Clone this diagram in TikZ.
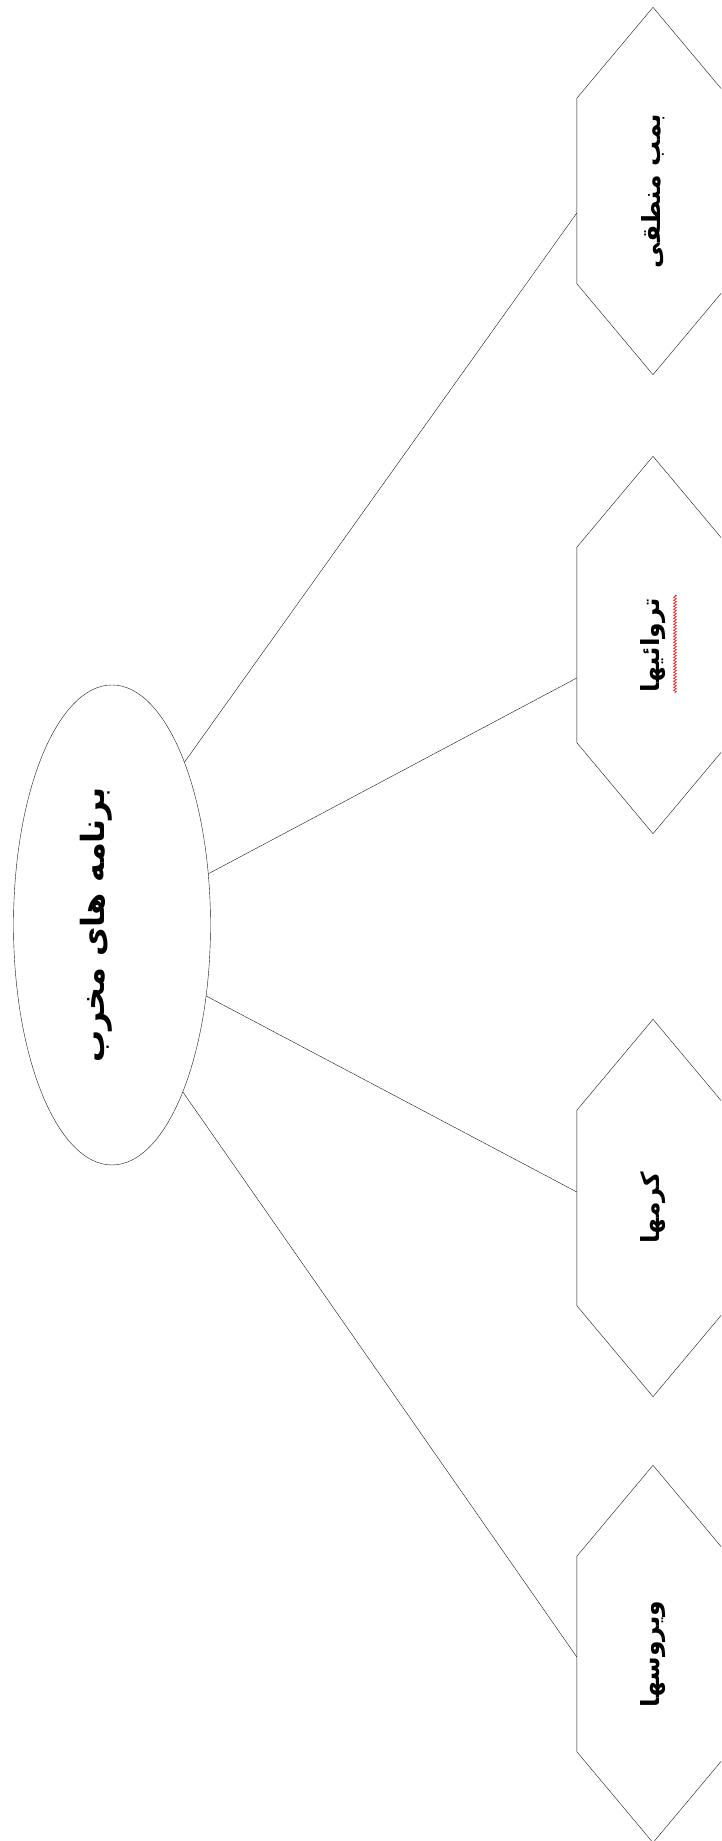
\documentclass[tikz,border=0pt]{standalone}
\usepackage{fontspec}
\usepackage{graphicx}
\newfontfamily\arabicfont[Script=Arabic]{DejaVu Sans}
\TeXXeTstate=1
\usepackage{tikz}
\usetikzlibrary{shapes.geometric, decorations.pathmorphing}
\tikzset{
	line width = 1.3pt,
	root/.style={
		draw=black!90,
		ellipse,
		minimum width=197pt,
		minimum height=480pt,
		inner sep=0pt,
		font=\arabicfont\bfseries\fontsize{32}{38}\selectfont
	},
	hexbox/.style={
		minimum width=152pt,
		minimum height=195pt,
		inner sep=0pt,
		font=\arabicfont\bfseries\fontsize{25}{30}\selectfont
	},
	hexline/.style={
		draw=black!90,
		line join=miter
	},
	link/.style={
		draw=black!90
	},
	squiggle/.style={
		red,
		line width=.6pt,
		decorate,
		decoration={zigzag, amplitude=1.4pt, segment length=3pt}
	}
}
\newcommand{\rtltext}[1]{\rotatebox{90}{\beginR #1\endR}}

\begin{document}
\begin{tikzpicture}[x=1pt, y=1pt]
	\useasboundingbox (0,0) rectangle (721,1841);
	\clip (0,0) rectangle (721,1841);
	\fill[white] (0,0) rectangle (721,1841);

	\node[root] (ell) at (112,916) {\rotatebox{90}{\raisebox{8pt}[0pt][0pt]{\beginR برنامه های مخرب\endR}}};

	\node[hexbox, minimum height=185pt] (h1) at (653,1650) {\rtltext{بمب منطقی}};
	\node[hexbox] (h2) at (653,1196) {\rtltext{تروائیها}};
	\node[hexbox] (h3) at (653,633) {\rtltext{کرمها}};
	\node[hexbox] (h4) at (653,187) {\rtltext{ویروسها}};

	% hexagon outlines round the boxes
	\foreach \h in {h1,h2,h3,h4}
		\draw[hexline] (\h.north west) -- ([yshift=91pt]\h.north) -- (\h.north east)
			-- (\h.south east) -- ([yshift=-91pt]\h.south) -- (\h.south west) -- cycle;

	\draw[link] (ell.66) -- ([yshift=-22pt]h1.west);
	\draw[link] (ell.28) -- ([yshift=-33pt]h2.west);
	\draw[link] (ell.-37) -- ([yshift=16pt]h3.west);
	\draw[link] (ell.-67) -- ([yshift=-3pt]h4.west);

	\draw[squiggle] ([xshift=22pt, yshift=50pt]h2.center) -- ([xshift=22pt, yshift=-48pt]h2.center);
\end{tikzpicture}
\end{document}
